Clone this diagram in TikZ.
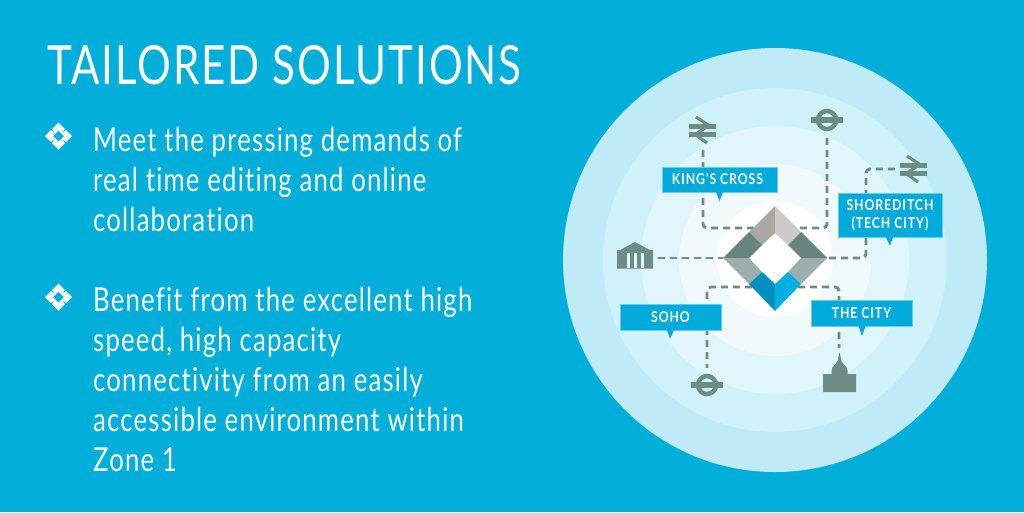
\documentclass[tikz,border=0pt]{standalone}
\usepackage{fontspec}
\setmainfont{Lato}
\newfontfamily\bodyfont[FakeStretch=0.78,LetterSpace=3.6,Ligatures=NoCommon]{Lato}
\newfontfamily\tagfont[FakeStretch=0.82,LetterSpace=6,Ligatures=NoCommon]{Lato Bold}
\usetikzlibrary{positioning}
\definecolor{skyback}{HTML}{00AEDA}
\definecolor{iconcol}{HTML}{6E8B84}
\definecolor{labelcol}{HTML}{00ABDC}
\tikzset{
  x=1pt, y=-1pt,
  bodyline/.style={anchor=base west, inner sep=0pt, text=white, font=\bodyfont\fontsize{33}{33}\selectfont},
  mainhead/.style={anchor=base west, inner sep=0pt, text=white, font=\bodyfont\fontsize{54}{54}\selectfont},
  placebox/.style={fill=labelcol, draw=white!40!labelcol, line width=0.5pt, text=white, inner sep=0pt, align=center, font=\tagfont\fontsize{15}{17.5}\selectfont},
  dashline/.style={draw=iconcol, line width=2.9pt, dash pattern=on 7pt off 5pt, rounded corners=4pt},
  spot/.style={inner sep=0pt, minimum size=0pt},
}
\begin{document}
\begin{tikzpicture}
\useasboundingbox (0,0) rectangle (1024,512);
\fill[skyback] (0,0) rectangle (1024,512);
% rings
\fill[color={rgb,255:red,190;green,235;blue,247}] (775,260) circle (212);
\fill[color={rgb,255:red,207;green,241;blue,250}] (775,260) circle (172);
\fill[color={rgb,255:red,224;green,246;blue,252}] (775,260) circle (134);
\fill[color={rgb,255:red,240;green,250;blue,253}] (775,260) circle (96);
\fill[white] (775,259) circle (58);
% heading and text
\node[mainhead] (head) at (47,84) {TAILORED SOLUTIONS};
\foreach \n/\ypos/\words in {a/151/Meet the pressing demands of, b/191/real time editing and online, c/231/collaboration, d/311/Benefit from the excellent high, e/351/{speed, high capacity}, f/391/connectivity from an easily, g/431/accessible environment within, h/471/Zone 1}
  \node[bodyline] (line\n) at (93,\ypos) {\words};
% bullets
\foreach \n/\ypos in {one/136, two/297} {
  \begin{scope}[shift={(58.5,\ypos)}]
    \fill[white, even odd rule] (0,-13.5) -- (13.5,0) -- (0,13.5) -- (-13.5,0) -- cycle (0,-5.5) -- (5.5,0) -- (0,5.5) -- (-5.5,0) -- cycle;
    \draw[skyback, line width=0.8pt] (-5,-4.5) -- (-9.5,-9) (5,-4.5) -- (9.5,-9) (-5,4.5) -- (-9.5,9) (5,4.5) -- (9.5,9);
  \end{scope}
}
% end points of the lines
\node[spot] (railtop) at (703,150) {};
\node[spot] (tubetop) at (827,138) {};
\node[spot] (railright) at (895,169) {};
\node[spot] (bank) at (658,258) {};
\node[spot] (tubelow) at (707,368) {};
\node[spot] (dome) at (839,348) {};
\node[spot] (dtl) at (757,228) {};
\node[spot] (dtr) at (797,228) {};
\node[spot] (dl) at (723,258) {};
\node[spot] (dr) at (827,258) {};
\node[spot] (dbl) at (752,287) {};
\node[spot] (dbr) at (798,287) {};
% lines
\draw[dashline] (railtop) |- (dtl);
\draw[dashline] (tubetop) |- (dtr);
\draw[dashline] (railright) -| (866,258) -- (dr);
\draw[dashline] (bank) -- (dl);
\draw[dashline] (dbl) -| (tubelow);
\draw[dashline] (dbr) -| (dome);
% diamond
\fill[color={rgb,255:red,170;green,167;blue,165}] (775,206) -- (775,233) -- (762,245) -- (749,232) -- cycle;
\fill[color={rgb,255:red,205;green,201;blue,203}] (775,206) -- (775,233) -- (788,245) -- (801,232) -- cycle;
\fill[iconcol!95!black] (749,232) -- (762,245) -- (749,258) -- (723,258) -- cycle;
\fill[iconcol!95!black] (801,232) -- (788,245) -- (801,258) -- (827,258) -- cycle;
\fill[color={rgb,255:red,156;green,175;blue,173}] (723,258) -- (749,258) -- (762,272) -- (749,284) -- cycle;
\fill[color={rgb,255:red,156;green,175;blue,173}] (827,258) -- (801,258) -- (788,272) -- (801,284) -- cycle;
\fill[color={rgb,255:red,0;green,143;blue,192}] (749,284) -- (762,272) -- (775,284) -- (775,311) -- cycle;
\fill[color={rgb,255:red,0;green,174;blue,224}] (801,284) -- (788,272) -- (775,284) -- (775,311) -- cycle;
% labels
\node[placebox, minimum width=115pt, minimum height=25pt] (kings) at (719.5,179.5) {KING'S CROSS\hspace{4pt}};
\fill[labelcol] (716,192) -- (723,192) -- (719.5,201) -- cycle;
\node[placebox, minimum width=104pt, minimum height=44pt] (shore) at (890,215) {SHOREDITCH\\(TECH CITY)};
\fill[labelcol] (886,237) -- (893,237) -- (890,246) -- cycle;
\node[placebox, minimum width=101pt, minimum height=25.5pt] (soho) at (670.5,317) {SOHO};
\fill[labelcol] (667,330) -- (674,330) -- (670,339) -- cycle;
\node[placebox, minimum width=101pt, minimum height=26pt] (city) at (861.5,313) {THE CITY};
\fill[labelcol] (858.5,326) -- (865.5,326) -- (862,336) -- cycle;
% icons
\foreach \cx/\cy in {702/130, 913/169} {
  \begin{scope}[shift={(\cx,\cy)}, iconcol]
    \fill (-13.5,-6.5) rectangle (13.5,-1.5);
    \fill (-13.5,1.5) rectangle (13.5,6.5);
    \draw[line width=3pt] (-6,-13) -- (7,-4.5) -- (-7,4.5) -- (5,13);
  \end{scope}
}
\foreach \cx/\cy in {827/120, 707/385} {
  \begin{scope}[shift={(\cx,\cy)}, iconcol]
    \draw[line width=4.5pt] (0,0) circle (9);
    \fill (-16,-3) rectangle (16,3);
  \end{scope}
}
% bank
\begin{scope}[shift={(635,256)}, iconcol]
  \fill (0,-14) -- (15,-6) -- (18,-6) -- (18,12.5) -- (-18,12.5) -- (-18,-6) -- (-15,-6) -- cycle;
  \foreach \gx in {-7,0,7}
    \fill[color={rgb,255:red,224;green,246;blue,252}] (\gx-1.5,-3) rectangle (\gx+1.5,11.5);
\end{scope}
% dome
\begin{scope}[shift={(839.5,376)}, iconcol]
  \fill (-16.5,16) -- (-16.5,-2) -- (-8,-2) -- (-8,-5) .. controls (-8,-10) and (-3,-12) .. (-2,-15) -- (0,-24) -- (2,-15) .. controls (3,-12) and (8,-10) .. (8,-5) -- (8,-2) -- (16.5,-2) -- (16.5,16) -- cycle;
\end{scope}
\end{tikzpicture}
\end{document}
